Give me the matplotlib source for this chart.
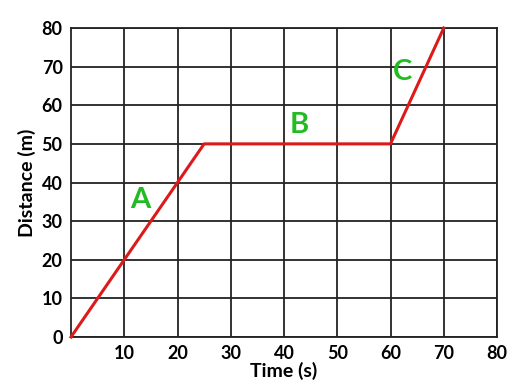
import matplotlib.pyplot as plt

plt.rcParams['font.family'] = ['Lato', 'DejaVu Sans']

# distance-time graph
tempo = [0, 25, 60, 70]
distancia = [0, 50, 50, 80]

etiquetas = ['A', 'B', 'C']
etiq_x = [13, 42.9, 62.2]
etiq_y = [35.5, 55, 68.5]

xticks = [10, 20, 30, 40, 50, 60, 70, 80]
yticks = [0, 10, 20, 30, 40, 50, 60, 70, 80]

fig = plt.figure(figsize=(5.13, 3.84), dpi=100)
ax = fig.add_axes([71/513, 1 - 337/384, 426/513, 309/384])

ax.plot(tempo, distancia, color='#dd1a1a', linewidth=2.2, zorder=3, clip_on=False)

for t, x, y in zip(etiquetas, etiq_x, etiq_y):
    ax.text(x, y, t, color='#22bb22', fontsize=21, fontweight='bold',
            ha='center', va='center')

ax.set_xlim(0, 80)
ax.set_ylim(0, 80)
ax.set_xticks(xticks)
ax.set_yticks(yticks)
ax.tick_params(length=0, labelsize=13, pad=6)
for lab in ax.get_xticklabels() + ax.get_yticklabels():
    lab.set_fontweight('bold')

ax.grid(color='#222222', linewidth=1.3)
for s in ax.spines.values():
    s.set_color('#222222')
    s.set_linewidth(1.3)

ax.set_xlabel('Time (s)', fontsize=14, fontweight='bold', labelpad=0)
ax.set_ylabel('Distance (m)', fontsize=14, fontweight='bold', labelpad=4)

plt.savefig('out.png')
